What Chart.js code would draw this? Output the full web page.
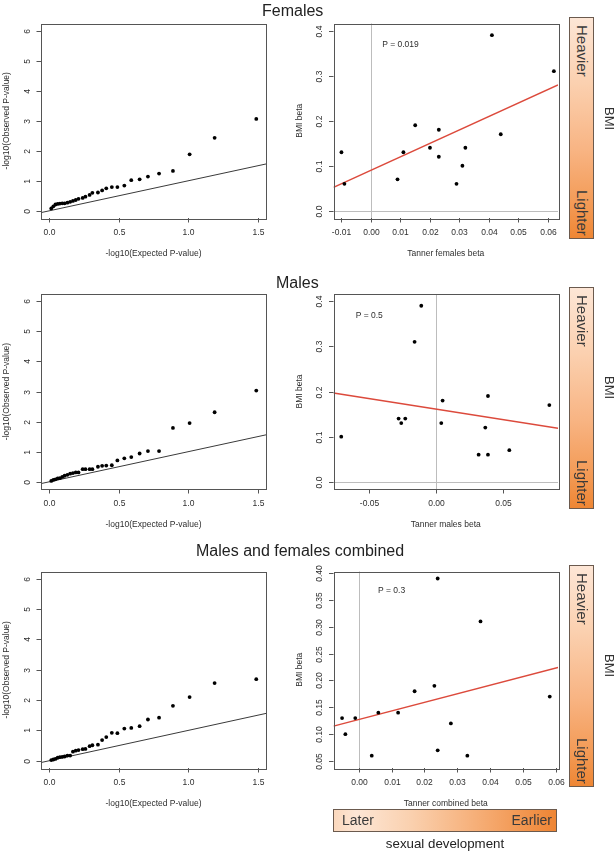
<!DOCTYPE html>
<html>
<head>
<meta charset="utf-8">
<script src="https://cdn.jsdelivr.net/npm/chart.js@4.4.1/dist/chart.umd.min.js"></script>
<style>
  html, body { margin: 0; padding: 0; background: #fff; }
  #fig { position: relative; width: 614px; height: 853px; overflow: hidden;
         font-family: "Liberation Sans", Arial, sans-serif; color: #222; }
  #fig canvas { position: absolute; left: 0; top: 0; }
  .title { position: absolute; font-size: 16px; line-height: 16px; white-space: nowrap; color: #222; }
  .vbar { position: absolute; left: 569px; width: 25px; height: 222px; box-sizing: border-box;
          border: 1px solid #6b5a4e;
          background: linear-gradient(to bottom, #fde6d6 0%, #fbd0af 30%, #f8b483 60%, #f39a55 85%, #ee8634 100%); }
  .vtext { position: absolute; writing-mode: vertical-rl; font-size: 15px; line-height: 16px;
           width: 16px; left: 4px; color: #3a3a3a; white-space: nowrap; }
  .bmi { position: absolute; writing-mode: vertical-rl; font-size: 13px; line-height: 14px;
         left: 602px; color: #333; }
  #hbar { position: absolute; left: 333px; top: 809px; width: 224px; height: 23px; box-sizing: border-box;
          border: 1px solid #6b5a4e;
          background: linear-gradient(to right, #fbd8bd 0%, #fde6d5 10%, #fad0ae 35%, #f5a86d 70%, #ee8534 100%); }
  #hbar span { position: absolute; top: 2px; font-size: 14px; line-height: 17px; color: #3a3a3a; }
  #sexdev { position: absolute; left: 333px; width: 224px; top: 836px; text-align: center;
            font-size: 13.3px; line-height: 15px; color: #222; }
</style>
</head>
<body>
<div id="fig">
  <canvas id="qqF" width="614" height="853"></canvas>
  <canvas id="scF" width="614" height="853"></canvas>
  <canvas id="qqM" width="614" height="853"></canvas>
  <canvas id="scM" width="614" height="853"></canvas>
  <canvas id="qqC" width="614" height="853"></canvas>
  <canvas id="scC" width="614" height="853"></canvas>

  <div class="title" style="left:262px; top:3px;">Females</div>
  <div class="title" style="left:276px; top:275px;">Males</div>
  <div class="title" style="left:196px; top:543px;">Males and females combined</div>

  <div class="vbar" style="top:17px;"><div class="vtext" style="top:7px;">Heavier</div><div class="vtext" style="bottom:2px;">Lighter</div></div>
  <div class="vbar" style="top:287px;"><div class="vtext" style="top:7px;">Heavier</div><div class="vtext" style="bottom:2px;">Lighter</div></div>
  <div class="vbar" style="top:565px;"><div class="vtext" style="top:7px;">Heavier</div><div class="vtext" style="bottom:2px;">Lighter</div></div>
  <div class="bmi" style="top:107px;">BMI</div>
  <div class="bmi" style="top:376px;">BMI</div>
  <div class="bmi" style="top:654px;">BMI</div>

  <div id="hbar"><span style="left:8px;">Later</span><span style="right:4px;">Earlier</span></div>
  <div id="sexdev">sexual development</div>
</div>

<script>
// QQ plots: expected -log10(P) shared by the three panels
const qqExpected = [1.49, 1.19, 1.01, 0.89, 0.79, 0.71, 0.65, 0.59, 0.54, 0.49,
  0.45, 0.41, 0.38, 0.35, 0.31, 0.29, 0.26, 0.24, 0.21, 0.19,
  0.17, 0.15, 0.13, 0.11, 0.093, 0.076, 0.060, 0.044, 0.029, 0.014];
const qqFemales = [3.06, 2.43, 1.88, 1.33, 1.24, 1.14, 1.05, 1.02, 0.84, 0.79,
  0.79, 0.75, 0.68, 0.61, 0.60, 0.53, 0.47, 0.43, 0.40, 0.36,
  0.33, 0.30, 0.27, 0.25, 0.25, 0.24, 0.23, 0.21, 0.15, 0.08];
const qqMales = [3.03, 2.31, 1.95, 1.79, 1.02, 1.02, 0.94, 0.82, 0.78, 0.71,
  0.55, 0.54, 0.53, 0.50, 0.42, 0.42, 0.42, 0.42, 0.31, 0.31,
  0.29, 0.27, 0.23, 0.20, 0.16, 0.12, 0.11, 0.08, 0.06, 0.03];
const qqCombined = [2.69, 2.56, 2.10, 1.81, 1.42, 1.36, 1.14, 1.08, 1.06, 0.91,
  0.92, 0.78, 0.68, 0.53, 0.51, 0.48, 0.39, 0.38, 0.35, 0.33,
  0.30, 0.17, 0.17, 0.14, 0.13, 0.12, 0.10, 0.06, 0.04, 0.02];
const qqDiagX = [-0.06, 1.56];
const qqDiagY = [-0.06, 1.56];
const qqXTicks = [0, 0.5, 1.0, 1.5];
const qqXTickLabels = ["0.0", "0.5", "1.0", "1.5"];
const qqYTicks = [0, 1, 2, 3, 4, 5, 6];
const qqYTickLabels = ["0", "1", "2", "3", "4", "5", "6"];

// Tanner beta vs BMI beta
const tannerFemales = [-0.010, -0.009, 0.009, 0.011, 0.015, 0.020, 0.023, 0.023, 0.029, 0.031, 0.032, 0.041, 0.044, 0.062];
const bmiFemales = [0.13, 0.06, 0.07, 0.13, 0.19, 0.14, 0.18, 0.12, 0.06, 0.10, 0.14, 0.39, 0.17, 0.31];
const fitFemalesX = [-0.0127, 0.0634];
const fitFemalesY = [0.052, 0.2795];

const tannerMales = [-0.071, -0.028, -0.026, -0.023, -0.016, -0.011, 0.004, 0.005, 0.032, 0.037, 0.039, 0.039, 0.055, 0.085];
const bmiMales = [0.10, 0.14, 0.13, 0.14, 0.31, 0.39, 0.13, 0.18, 0.06, 0.12, 0.19, 0.06, 0.07, 0.17];
const fitMalesX = [-0.0768, 0.0915];
const fitMalesY = [0.1967, 0.1183];

const tannerCombined = [-0.005, -0.004, -0.001, 0.004, 0.006, 0.012, 0.017, 0.023, 0.024, 0.024, 0.028, 0.033, 0.037, 0.058];
const bmiCombined = [0.13, 0.10, 0.13, 0.06, 0.14, 0.14, 0.18, 0.19, 0.39, 0.07, 0.12, 0.06, 0.31, 0.17];
const fitCombinedX = [-0.0076, 0.0605];
const fitCombinedY = [0.115, 0.2244];

const femalesXTicks = [-0.01, 0, 0.01, 0.02, 0.03, 0.04, 0.05, 0.06];
const femalesXTickLabels = ["-0.01", "0.00", "0.01", "0.02", "0.03", "0.04", "0.05", "0.06"];
const malesXTicks = [-0.05, 0, 0.05];
const malesXTickLabels = ["-0.05", "0.00", "0.05"];
const combinedXTicks = [0, 0.01, 0.02, 0.03, 0.04, 0.05, 0.06];
const combinedXTickLabels = ["0.00", "0.01", "0.02", "0.03", "0.04", "0.05", "0.06"];
const bmiYTicks = [0, 0.1, 0.2, 0.3, 0.4];
const bmiYTickLabels = ["0.0", "0.1", "0.2", "0.3", "0.4"];
const bmiCombYTicks = [0.05, 0.10, 0.15, 0.20, 0.25, 0.30, 0.35, 0.40];
const bmiCombYTickLabels = ["0.05", "0.10", "0.15", "0.20", "0.25", "0.30", "0.35", "0.40"];

const pLabels = ["P = 0.019", "P = 0.5", "P = 0.3"];
const pLabelX = [0.01, -0.05, 0.01];
const pLabelY = [0.368, 0.368, 0.367];

const FONT = '8.5px "Liberation Sans", Arial, sans-serif';
const W = 614, H = 853;

// R-like box axes, drawn with the chart's own scales
function rAxes(cfg) {
  return {
    id: "rAxes",
    beforeDatasetsDraw(chart) {
      const { ctx, chartArea: a, scales: { x, y } } = chart;
      ctx.save();
      ctx.strokeStyle = "#bdbdbd";
      ctx.lineWidth = 1;
      if (cfg.refX != null) {
        const px = Math.round(x.getPixelForValue(cfg.refX)) + 0.5;
        ctx.beginPath(); ctx.moveTo(px, a.top); ctx.lineTo(px, a.bottom); ctx.stroke();
      }
      if (cfg.refY != null && cfg.refY >= y.min) {
        const py = Math.round(y.getPixelForValue(cfg.refY)) + 0.5;
        ctx.beginPath(); ctx.moveTo(a.left, py); ctx.lineTo(a.right, py); ctx.stroke();
      }
      ctx.restore();
    },
    afterDraw(chart) {
      const { ctx, chartArea: a, scales: { x, y } } = chart;
      ctx.save();
      ctx.strokeStyle = "#555";
      ctx.lineWidth = 1;
      ctx.strokeRect(Math.round(a.left) + 0.5, Math.round(a.top) + 0.5,
        Math.round(a.right - a.left), Math.round(a.bottom - a.top));

      ctx.fillStyle = "#2e2e2e";
      ctx.font = FONT;
      ctx.textAlign = "center";
      ctx.textBaseline = "middle";

      cfg.xTicks.forEach((v, i) => {
        const px = Math.round(x.getPixelForValue(v)) + 0.5;
        ctx.beginPath(); ctx.moveTo(px, a.bottom); ctx.lineTo(px, a.bottom + 4.5); ctx.stroke();
        ctx.fillText(cfg.xTickLabels[i], px, a.bottom + 15);
      });
      cfg.yTicks.forEach((v, i) => {
        const py = Math.round(y.getPixelForValue(v)) + 0.5;
        ctx.beginPath(); ctx.moveTo(a.left, py); ctx.lineTo(a.left - 4.5, py); ctx.stroke();
        ctx.save();
        ctx.translate(a.left - 13.5, py);
        ctx.rotate(-Math.PI / 2);
        ctx.fillText(cfg.yTickLabels[i], 0, 0);
        ctx.restore();
      });

      ctx.fillText(cfg.xTitle, (a.left + a.right) / 2, a.bottom + 36);
      ctx.save();
      ctx.translate(a.left - 34, (a.top + a.bottom) / 2);
      ctx.rotate(-Math.PI / 2);
      ctx.fillText(cfg.yTitle, 0, 0);
      ctx.restore();

      if (cfg.note) {
        ctx.fillText(cfg.note.text, x.getPixelForValue(cfg.note.x), y.getPixelForValue(cfg.note.y));
      }
      ctx.restore();
    }
  };
}

function toPoints(xs, ys) {
  return xs.map((v, i) => ({ x: v, y: ys[i] }));
}

function makePanel(id, box, xRange, yRange, points, line, lineColor, lineWidth, cfg) {
  new Chart(document.getElementById(id), {
    type: "scatter",
    data: {
      datasets: [
        {
          data: points,
          pointRadius: 1.9,
          pointBackgroundColor: "#000",
          pointBorderWidth: 0,
          pointHoverRadius: 1.9
        },
        {
          data: line,
          showLine: true,
          borderColor: lineColor,
          borderWidth: lineWidth,
          pointRadius: 0,
          pointHoverRadius: 0,
          fill: false
        }
      ]
    },
    options: {
      responsive: false,
      animation: false,
      events: [],
      layout: { padding: { left: box.l, right: W - box.r, top: box.t, bottom: H - box.b } },
      scales: {
        x: { type: "linear", min: xRange[0], max: xRange[1], display: false },
        y: { type: "linear", min: yRange[0], max: yRange[1], display: false }
      },
      plugins: { legend: { display: false }, tooltip: { enabled: false } }
    },
    plugins: [rAxes(cfg)]
  });
}

const rowBoxes = [
  { t: 23.5, b: 218 },
  { t: 294, b: 489 },
  { t: 571.5, b: 768 }
];
const qqCols = { l: 41, r: 266 };
const scCols = { l: 333.5, r: 558 };

const qqSeries = [qqFemales, qqMales, qqCombined];
["qqF", "qqM", "qqC"].forEach((id, i) => {
  makePanel(id, { l: qqCols.l, r: qqCols.r, t: rowBoxes[i].t, b: rowBoxes[i].b },
    [-0.06, 1.56], [-0.24, 6.24],
    toPoints(qqExpected, qqSeries[i]), toPoints(qqDiagX, qqDiagY), "#3a3a3a", 1,
    { xTicks: qqXTicks, xTickLabels: qqXTickLabels, yTicks: qqYTicks, yTickLabels: qqYTickLabels,
      xTitle: "-log10(Expected P-value)", yTitle: "-log10(Observed P-value)" });
});

makePanel("scF", { l: scCols.l, r: scCols.r, t: rowBoxes[0].t, b: rowBoxes[0].b },
  [-0.0127, 0.0634], [-0.016, 0.416],
  toPoints(tannerFemales, bmiFemales), toPoints(fitFemalesX, fitFemalesY), "#dc4a3c", 1.5,
  { xTicks: femalesXTicks, xTickLabels: femalesXTickLabels, yTicks: bmiYTicks, yTickLabels: bmiYTickLabels,
    xTitle: "Tanner females beta", yTitle: "BMI beta", refX: 0, refY: 0,
    note: { text: pLabels[0], x: pLabelX[0], y: pLabelY[0] } });

makePanel("scM", { l: scCols.l, r: scCols.r, t: rowBoxes[1].t, b: rowBoxes[1].b },
  [-0.0768, 0.0915], [-0.016, 0.416],
  toPoints(tannerMales, bmiMales), toPoints(fitMalesX, fitMalesY), "#dc4a3c", 1.5,
  { xTicks: malesXTicks, xTickLabels: malesXTickLabels, yTicks: bmiYTicks, yTickLabels: bmiYTickLabels,
    xTitle: "Tanner males beta", yTitle: "BMI beta", refX: 0, refY: 0,
    note: { text: pLabels[1], x: pLabelX[1], y: pLabelY[1] } });

makePanel("scC", { l: scCols.l, r: scCols.r, t: rowBoxes[2].t, b: rowBoxes[2].b },
  [-0.0076, 0.0605], [0.037, 0.403],
  toPoints(tannerCombined, bmiCombined), toPoints(fitCombinedX, fitCombinedY), "#dc4a3c", 1.5,
  { xTicks: combinedXTicks, xTickLabels: combinedXTickLabels, yTicks: bmiCombYTicks, yTickLabels: bmiCombYTickLabels,
    xTitle: "Tanner combined beta", yTitle: "BMI beta", refX: 0,
    note: { text: pLabels[2], x: pLabelX[2], y: pLabelY[2] } });
</script>
</body>
</html>
